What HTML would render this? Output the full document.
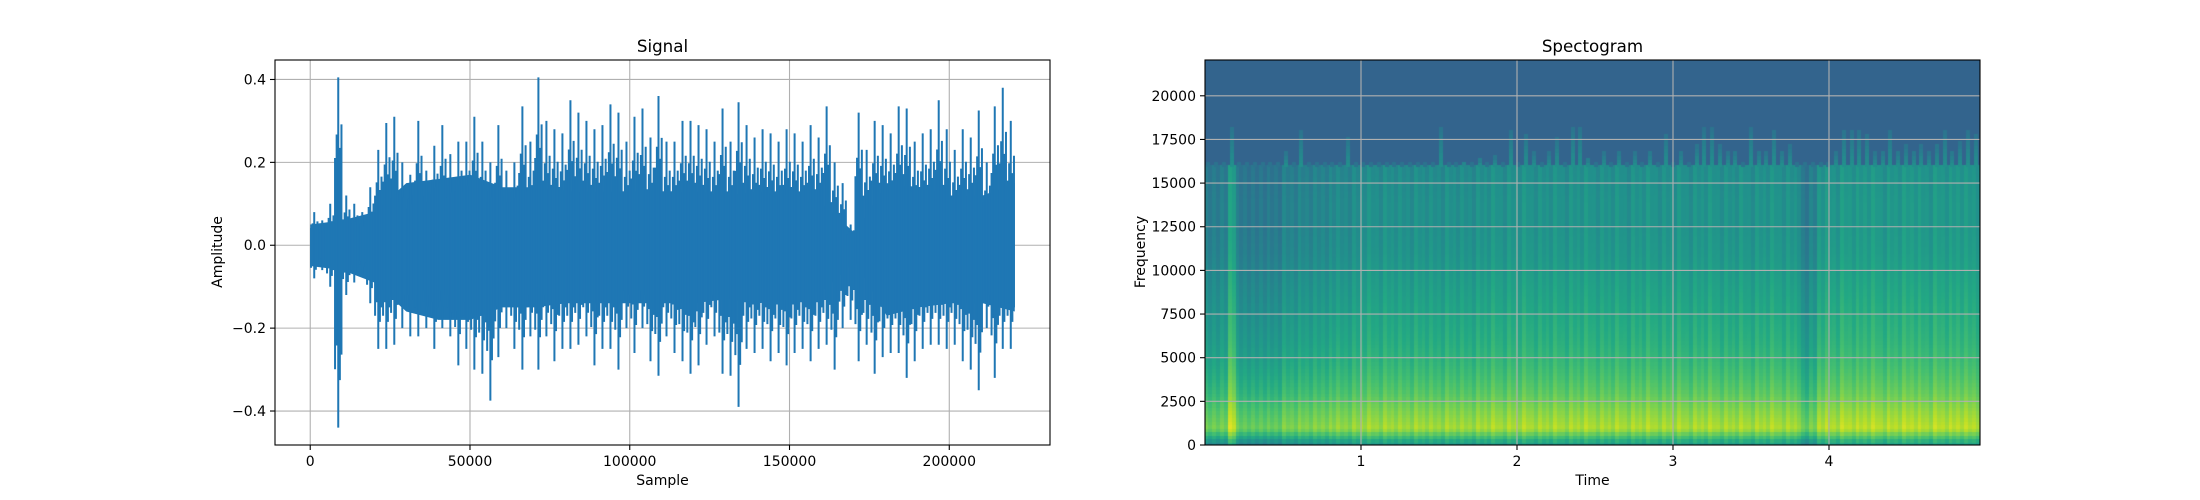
<!DOCTYPE html>
<html><head><meta charset="utf-8"><style>
html,body{margin:0;padding:0;background:#fff;}
#wrap{position:relative;width:2200px;height:500px;overflow:hidden;font-family:"DejaVu Sans","Liberation Sans",sans-serif;}
#spec{position:absolute;left:1205px;top:60px;}
svg{position:absolute;left:0;top:0;}
text{font-family:"DejaVu Sans","Liberation Sans",sans-serif;fill:#000;}
</style></head><body>
<div id="wrap">
<canvas id="spec" width="775" height="385"></canvas>
<svg id="svg" width="2200" height="500"></svg>
</div>
<script>
// ---- Signal data (per 2500-sample bin: max / min) ----
const sigMax=[0.08,0.06,0.10,0.405,0.12,0.10,0.08,0.14,0.23,0.295,0.31,0.20,0.17,0.30,0.18,0.24,0.29,0.22,0.25,0.25,0.31,0.25,0.20,0.29,0.18,0.20,0.335,0.25,0.405,0.30,0.28,0.27,0.35,0.32,0.30,0.28,0.29,0.34,0.32,0.25,0.31,0.33,0.26,0.36,0.25,0.25,0.30,0.30,0.29,0.28,0.25,0.33,0.25,0.345,0.29,0.26,0.28,0.27,0.25,0.28,0.27,0.25,0.29,0.26,0.335,0.20,0.15,0.05,0.32,0.23,0.30,0.29,0.27,0.335,0.33,0.25,0.27,0.28,0.35,0.28,0.23,0.28,0.26,0.325,0.20,0.335,0.38,0.30];
const sigMin=[-0.08,-0.06,-0.10,-0.44,-0.12,-0.09,-0.07,-0.14,-0.25,-0.25,-0.24,-0.20,-0.22,-0.22,-0.20,-0.25,-0.20,-0.22,-0.29,-0.25,-0.30,-0.31,-0.375,-0.27,-0.20,-0.25,-0.30,-0.22,-0.30,-0.22,-0.28,-0.25,-0.25,-0.24,-0.22,-0.29,-0.25,-0.25,-0.30,-0.20,-0.26,-0.20,-0.28,-0.315,-0.22,-0.26,-0.28,-0.31,-0.29,-0.24,-0.22,-0.31,-0.315,-0.39,-0.25,-0.26,-0.25,-0.28,-0.26,-0.29,-0.26,-0.25,-0.28,-0.25,-0.24,-0.30,-0.20,-0.18,-0.28,-0.24,-0.31,-0.27,-0.26,-0.26,-0.32,-0.28,-0.25,-0.24,-0.24,-0.25,-0.24,-0.28,-0.30,-0.35,-0.20,-0.32,-0.25,-0.25];
const coreUp=[0.05,0.06,0.08,0.15,0.16,0.17,0.14,0.14,0.13,0.13,0.13,0.13,0.13,0.12,0.13,0.12,0.10,0.03,0.15,0.14,0.12,0.12,0.15];
const coreLo=[-0.05,-0.06,-0.09,-0.16,-0.18,-0.18,-0.15,-0.15,-0.14,-0.14,-0.14,-0.14,-0.14,-0.13,-0.14,-0.13,-0.11,-0.04,-0.17,-0.15,-0.14,-0.14,-0.16];
const sigXTicks=[0,50000,100000,150000,200000];
const sigYTicks=[-0.4,-0.2,0.0,0.2,0.4];
// ---- Spectrogram data ----
const freqLevel=[0.5,0.87,0.81,0.74,0.69,0.65,0.62,0.6,0.58,0.56,0.54,0.52,0.51,0.5,0.5,0.49,0.48];
const timeEnergy=[-0.6,-0.6,-0.5,0.9,-0.7,-0.8,-0.8,-0.8,-0.7,-0.8,-0.3,-0.5,-0.2,-0.4,-0.2,-0.3,-0.1,0.0,-0.2,0.1,
0.1,0.3,0.0,0.3,0.1,0.2,0.0,0.3,0.1,0.2,0.0,0.3,0.1,0.2,0.0,0.3,
0.2,0.45,0.1,0.4,0.25,0.5,0.15,0.35,0.2,0.45,0.1,0.4,0.25,0.5,0.15,0.35,0.2,0.45,0.1,0.4,0.25,0.5,0.15,0.35,0.2,0.45,0.1,0.4,0.25,0.5,0.15,0.35,0.2,0.45,0.1,0.4,0.25,0.5,0.15,0.35,
0.2,-0.8,-0.4,
0.4,0.6,0.3,0.7,0.4,0.6,0.5,0.7,0.3,0.6,0.4,0.7,0.5,0.6,0.3,0.7,0.4,0.6,0.5,0.6,0.4];
const cutoffKHz=[16.1,16.1,16.1,18.3,16.1,16.1,16.1,16.1,16.1,16.1,16.8,16.1,18.0,16.1,16.1,16.1,16.1,16.1,17.7,16.1,
16.1,16.1,16.1,16.1,16.1,16.1,16.1,16.1,16.1,16.1,18.3,16.1,16.1,16.3,16.1,16.5,16.1,16.6,16.1,18.0,
16.1,17.9,16.8,16.1,16.8,17.6,16.1,18.3,18.3,16.5,16.1,16.8,16.1,16.9,16.1,16.8,16.1,16.9,16.1,17.9,
16.1,16.9,16.1,17.2,18.2,18.2,17.2,16.8,16.9,16.1,18.2,16.9,16.8,18.1,16.9,17.2,16.1,16.1,16.1,16.1,
16.1,16.8,18.1,18.1,18.1,17.9,16.8,16.9,18.0,16.9,17.2,16.9,17.2,16.8,17.3,18.0,16.9,17.4,18.0,17.9];
const specXTicks=[1,2,3,4];
const specYTicks=[0,2500,5000,7500,10000,12500,15000,17500,20000];

const NS="http://www.w3.org/2000/svg";
const svg=document.getElementById('svg');
function mk(tag,attrs,parent){const e=document.createElementNS(NS,tag);for(const k in attrs)e.setAttribute(k,attrs[k]);(parent||svg).appendChild(e);return e;}

const L={x0:275,x1:1050,y0:60,y1:445,xmin:-11025,xmax:231525,ymin:-0.482,ymax:0.447};
const sx=v=>L.x0+(v-L.xmin)/(L.xmax-L.xmin)*(L.x1-L.x0);
const sy=v=>L.y1-(v-L.ymin)/(L.ymax-L.ymin)*(L.y1-L.y0);
const R={x0:1205,x1:1980,y0:60,y1:445,tmax:4.968,fmax:22050};
const tx=v=>R.x0+v/R.tmax*(R.x1-R.x0);
const fy=v=>R.y1-v/R.fmax*(R.y1-R.y0);

const vir=[[68,1,84],[72,36,117],[65,68,135],[53,95,141],[42,120,142],[33,145,140],[34,168,132],[68,191,112],[122,209,81],[189,223,38],[253,231,37]];
function vcol(v){v=Math.max(0,Math.min(1,v));const p=v*10,i=Math.min(9,Math.floor(p)),f=p-i;const a=vir[i],b=vir[i+1];return `rgb(${a.map((c,k)=>Math.round(c+(b[k]-c)*f)).join(',')})`;}
const ctx=document.getElementById('spec').getContext('2d');
const nT=timeEnergy.length, rowHz=200, nF=Math.ceil(R.fmax/rowHz);
ctx.fillStyle=vcol(0.32);ctx.fillRect(0,0,775,385);
for(let ti=0;ti<nT;ti++){
  const xa=tx(ti*R.tmax/nT)-R.x0, xb=tx((ti+1)*R.tmax/nT)-R.x0, w=xb-xa;
  const e=timeEnergy[ti], cut=cutoffKHz[ti]*1000;
  for(let fi=0;fi<nF;fi++){
    const f=fi*rowHz+rowHz/2;
    const ya=fy(fi*rowHz)-R.y0, yb=fy((fi+1)*rowHz)-R.y0;
    if(f<16000){
      const k=f/1000,i=Math.min(freqLevel.length-2,Math.floor(k)),fr=k-i;
      const base=freqLevel[i]+(freqLevel[i+1]-freqLevel[i])*fr;
      ctx.fillStyle=vcol(base+0.1*e);
      ctx.fillRect(Math.floor(xa),Math.floor(yb),Math.ceil(w/2)+1,Math.ceil(ya-yb)+1);
      ctx.fillStyle=vcol(base+0.1*e-0.04);
      ctx.fillRect(Math.floor(xa+w/2),Math.floor(yb),Math.ceil(w/2)+1,Math.ceil(ya-yb)+1);
    } else if(f<cut){
      const frac=(f-16000)/Math.max(1,cut-16000);
      ctx.fillStyle=vcol(0.5-0.12*frac);
      ctx.fillRect(Math.floor(xa+w*0.25),Math.floor(yb),Math.max(2,Math.round(w*0.5)),Math.ceil(ya-yb)+1);
    }
  }
}

for(const t of sigXTicks){const l=mk('line',{x1:sx(t),x2:sx(t),y1:L.y0,y2:L.y1,stroke:'#b0b0b0','stroke-width':1.1});}
for(const t of sigYTicks){const l=mk('line',{x1:L.x0,x2:L.x1,y1:sy(t),y2:sy(t),stroke:'#b0b0b0','stroke-width':1.1});}
const bw=(220500)/(coreUp.length-1);
let pts=coreUp.map((v,i)=>`${sx(Math.min(220500,i*bw))},${sy(v)}`);
pts=pts.concat(coreLo.map((v,i)=>`${sx(Math.min(220500,i*bw))},${sy(v)}`).reverse());
const band=mk('polygon',{points:pts.join(' '),fill:'#1f77b4'});


const binW=220500/sigMax.length;
const subPos=[0.1,0.3,0.5,0.7,0.9];
const subScaleUp=[0.52,0.66,1.0,0.58,0.72];
const subScaleDn=[0.68,0.55,1.0,0.74,0.6];
for(let i=0;i<sigMax.length;i++){
  for(let j=0;j<subPos.length;j++){
    const xc=sx((i+subPos[j])*binW);
    const ln=mk('line',{x1:xc,x2:xc,y1:sy(sigMax[i]*subScaleUp[j]),y2:sy(sigMin[i]*subScaleDn[j]),stroke:'#1f77b4','stroke-width':2});
    
    
  }
}
const f1=mk('rect',{x:L.x0,y:L.y0,width:L.x1-L.x0,height:L.y1-L.y0,fill:'none',stroke:'#000','stroke-width':1.1});

for(const t of sigXTicks){mk('line',{x1:sx(t),x2:sx(t),y1:L.y1,y2:L.y1+5,stroke:'#000','stroke-width':1.1});
 const tt=mk('text',{x:sx(t),y:L.y1+21,'text-anchor':'middle','font-size':14});tt.textContent=String(t);
 }
for(const t of sigYTicks){mk('line',{x1:L.x0-5,x2:L.x0,y1:sy(t),y2:sy(t),stroke:'#000','stroke-width':1.1});
 const tt=mk('text',{x:L.x0-9,y:sy(t)+5,'text-anchor':'end','font-size':14});tt.textContent=t.toFixed(1).replace('-','\u2212');
 }
let t1=mk('text',{x:(L.x0+L.x1)/2,y:52,'text-anchor':'middle','font-size':16.7});t1.textContent='Signal';

let t2=mk('text',{x:(L.x0+L.x1)/2,y:485,'text-anchor':'middle','font-size':14});t2.textContent='Sample';

let t3=mk('text',{x:222,y:252,'text-anchor':'middle','font-size':14,transform:'rotate(-90 222 252)'});t3.textContent='Amplitude';


for(const t of specXTicks){const l=mk('line',{x1:tx(t),x2:tx(t),y1:R.y0,y2:R.y1,stroke:'#b0b0b0','stroke-width':1.1});}
for(const t of specYTicks){const l=mk('line',{x1:R.x0,x2:R.x1,y1:fy(t),y2:fy(t),stroke:'#b0b0b0','stroke-width':1.1});}
const f2=mk('rect',{x:R.x0,y:R.y0,width:R.x1-R.x0,height:R.y1-R.y0,fill:'none',stroke:'#000','stroke-width':1.1});

for(const t of specXTicks){mk('line',{x1:tx(t),x2:tx(t),y1:R.y1,y2:R.y1+5,stroke:'#000','stroke-width':1.1});
 const tt=mk('text',{x:tx(t),y:R.y1+21,'text-anchor':'middle','font-size':14});tt.textContent=String(t);
 }
for(const t of specYTicks){mk('line',{x1:R.x0-5,x2:R.x0,y1:fy(t),y2:fy(t),stroke:'#000','stroke-width':1.1});
 const tt=mk('text',{x:R.x0-9,y:fy(t)+5,'text-anchor':'end','font-size':14});tt.textContent=String(t);
 }
let t4=mk('text',{x:(R.x0+R.x1)/2,y:52,'text-anchor':'middle','font-size':16.7});t4.textContent='Spectogram';

let t5=mk('text',{x:(R.x0+R.x1)/2,y:485,'text-anchor':'middle','font-size':14});t5.textContent='Time';

let t6=mk('text',{x:1145,y:252,'text-anchor':'middle','font-size':14,transform:'rotate(-90 1145 252)'});t6.textContent='Frequency';

</script>
</body></html>
